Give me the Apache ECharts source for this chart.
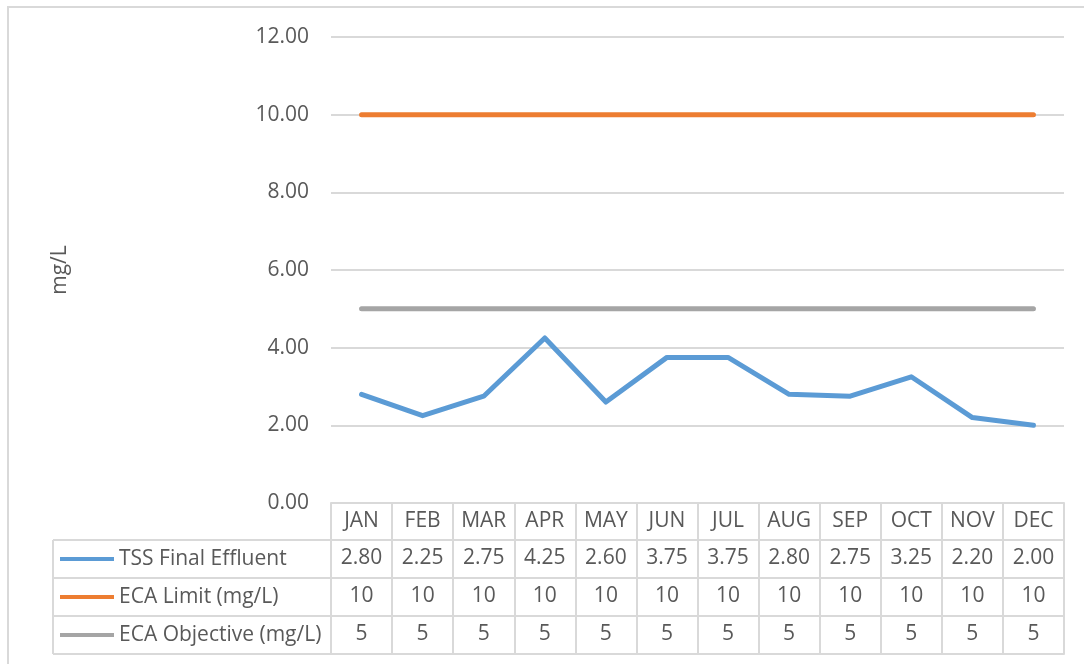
<!DOCTYPE html>
<html>
<head>
<meta charset="utf-8">
<script src="https://cdn.jsdelivr.net/npm/echarts@6/dist/echarts.min.js"></script>
<style>
  html, body { margin: 0; padding: 0; background: #fff; }
  #chart { width: 1084px; height: 664px; }
</style>
</head>
<body>
<div id="chart"></div>
<script>
// data
const months = ['JAN', 'FEB', 'MAR', 'APR', 'MAY', 'JUN', 'JUL', 'AUG', 'SEP', 'OCT', 'NOV', 'DEC']
const tss = [2.80, 2.25, 2.75, 4.25, 2.60, 3.75, 3.75, 2.80, 2.75, 3.25, 2.20, 2.00]
const ecaLimit = [10, 10, 10, 10, 10, 10, 10, 10, 10, 10, 10, 10]
const ecaObjective = [5, 5, 5, 5, 5, 5, 5, 5, 5, 5, 5, 5]
const seriesNames = ['TSS Final Effluent', 'ECA Limit (mg/L)', 'ECA Objective (mg/L)']
const colors = ['#5b9bd5', '#ed7d31', '#a5a5a5']

const FONT = 'Open Sans'
const TXT = '#595959'
const GRID_LINE = '#d9d9d9'
const FS = 21

// layout of the plot and the data table under it
const gridLeft = 331
const gridRight = 1064
const gridTop = 37
const gridBottom = 503
const headH = 37
const rowH = 38
const tableLeft = 53

// one extra category axis per table row, labels = the row values
function rowAxis(values, offset, fmt) {
  return {
    type: 'category',
    position: 'bottom',
    offset: offset,
    data: values.map(fmt),
    axisLine: { show: true, lineStyle: { color: GRID_LINE, width: 2 } },
    axisTick: { show: false },
    axisLabel: { color: TXT, fontSize: FS, fontFamily: FONT, margin: 8, interval: 0 },
    splitLine: { show: false }
  }
}

const chart = echarts.init(document.getElementById('chart'))

// left part of the table (legend column)
const tableLines = []
for (let i = 0; i <= 3; i++) {
  const y = gridBottom + headH + i * rowH
  tableLines.push({
    type: 'line',
    shape: { x1: tableLeft, y1: y, x2: gridLeft, y2: y },
    style: { stroke: GRID_LINE, lineWidth: 2 }
  })
}
tableLines.push({
  type: 'line',
  shape: { x1: tableLeft, y1: gridBottom + headH, x2: tableLeft, y2: gridBottom + headH + 3 * rowH },
  style: { stroke: GRID_LINE, lineWidth: 2 }
})

const option = {
  animation: false,
  color: colors,
  grid: {
    left: gridLeft,
    right: 1084 - gridRight,
    top: gridTop,
    bottom: 664 - gridBottom
  },
  legend: {
    orient: 'vertical',
    left: 55,
    top: gridBottom + headH + 3,
    itemWidth: 54,
    itemHeight: 22,
    itemGap: rowH - 22,
    data: seriesNames.map(n => ({
      name: n,
      icon: 'path://M0,9 L54,9 L54,13 L0,13 Z'
    })),
    textStyle: { color: TXT, fontSize: FS, fontFamily: FONT, lineHeight: 22 },
    selectedMode: false
  },
  xAxis: [
    {
      type: 'category',
      position: 'bottom',
      data: months,
      boundaryGap: true,
      axisLine: { show: true, lineStyle: { color: GRID_LINE, width: 2 } },
      axisTick: {
        show: true,
        inside: false,
        length: headH + 3 * rowH,
        lineStyle: { color: GRID_LINE, width: 2 }
      },
      axisLabel: { color: TXT, fontSize: FS, fontFamily: FONT, margin: 8, interval: 0 },
      splitLine: { show: false }
    },
    rowAxis(tss, headH, v => v.toFixed(2)),
    rowAxis(ecaLimit, headH + rowH, v => String(v)),
    rowAxis(ecaObjective, headH + 2 * rowH, v => String(v)),
    Object.assign(rowAxis(months, headH + 3 * rowH, v => ''), { axisLabel: { show: false } })
  ],
  yAxis: {
    type: 'value',
    min: 0,
    max: 12,
    interval: 2,
    name: 'mg/L',
    nameLocation: 'middle',
    nameRotate: 90,
    nameGap: 260,
    nameTextStyle: { color: TXT, fontSize: FS, fontFamily: FONT },
    axisLine: { show: false },
    axisTick: { show: false },
    axisLabel: {
      color: TXT,
      fontSize: FS,
      fontFamily: FONT,
      margin: 22,
      formatter: v => v.toFixed(2)
    },
    splitLine: { show: true, lineStyle: { color: GRID_LINE, width: 2 } }
  },
  series: [
    {
      name: seriesNames[0],
      type: 'line',
      data: tss,
      symbol: 'none',
      lineStyle: { width: 5, color: colors[0], cap: 'round', join: 'round' }
    },
    {
      name: seriesNames[1],
      type: 'line',
      data: ecaLimit,
      symbol: 'none',
      lineStyle: { width: 5, color: colors[1], cap: 'round' }
    },
    {
      name: seriesNames[2],
      type: 'line',
      data: ecaObjective,
      symbol: 'none',
      lineStyle: { width: 5, color: colors[2], cap: 'round' }
    }
  ],
  graphic: [
    {
      type: 'rect',
      shape: { x: 8, y: 7, width: 1200, height: 800 },
      style: { fill: 'none', stroke: GRID_LINE, lineWidth: 2 },
      silent: true
    }
  ].concat(tableLines)
}

chart.setOption(option)
</script>
</body>
</html>
